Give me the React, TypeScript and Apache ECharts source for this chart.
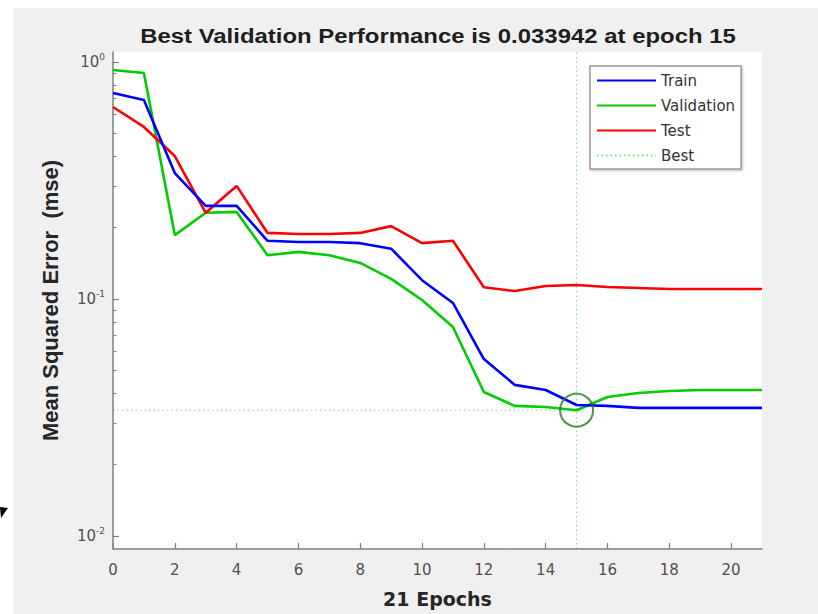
import React, { useEffect, useRef } from "react";
import * as echarts from "echarts";

const epochs = [0, 1, 2, 3, 4, 5, 6, 7, 8, 9, 10, 11, 12, 13, 14, 15, 16, 17, 18, 19, 20, 21];
const trainMse = [0.74, 0.691, 0.34, 0.247, 0.247, 0.176, 0.174, 0.174, 0.172, 0.163, 0.12, 0.0962, 0.0558, 0.0434, 0.0413, 0.0357, 0.0354, 0.0347, 0.0347, 0.0347, 0.0347, 0.0347];
const validationMse = [0.925, 0.899, 0.186, 0.231, 0.233, 0.153, 0.158, 0.153, 0.142, 0.1215, 0.099, 0.0762, 0.0405, 0.0354, 0.035, 0.033942, 0.0386, 0.0401, 0.0409, 0.0413, 0.0413, 0.0413];
const testMse = [0.646, 0.532, 0.401, 0.231, 0.3, 0.19, 0.188, 0.188, 0.19, 0.203, 0.172, 0.176, 0.112, 0.108, 0.1135, 0.1146, 0.1124, 0.1113, 0.1102, 0.1102, 0.1102, 0.1102];
const bestEpoch = 15;
const bestPerf = 0.033942;
const xTicks = [0, 2, 4, 6, 8, 10, 12, 14, 16, 18, 20];
const yMajorTicks = [0.01, 0.1, 1];
const yMinorTicks = [0.02, 0.03, 0.04, 0.05, 0.06, 0.07, 0.08, 0.09, 0.2, 0.3, 0.4, 0.5, 0.6, 0.7, 0.8, 0.9];
const yMin = 0.00881;
const yMax = 1.102;
const xMin = 0;
const xMax = 21;
const titleText = "Best Validation Performance is 0.033942 at epoch 15";
const xName = "21 Epochs";
const yName = "Mean Squared Error  (mse)";

const AXIS_COLOR = "#7f7f7f";
const LABEL_COLOR = "#505050";

export default function App() {
  const ref = useRef<HTMLDivElement>(null);
  useEffect(() => {
    if (!ref.current) return;
    const chart = echarts.init(ref.current, undefined, { renderer: "svg" });
    const zip = (ys: number[]) => epochs.map((e, i) => [e, ys[i]]);
    const option: any = {
      animation: false,
      backgroundColor: "transparent",
      grid: {
        left: 113,
        top: 52,
        right: 56,
        bottom: 65,
        show: true,
        backgroundColor: "#ffffff",
        borderWidth: 0,
      },
      graphic: [
        {
          type: "text",
          x: 438,
          y: 36,
          scaleX: 1.14,
          style: {
            text: titleText,
            font: 'bold 21px "Liberation Sans", Arial, sans-serif',
            fill: "#1e1e1e",
            align: "center",
            verticalAlign: "middle",
            textAlign: "center",
            textVerticalAlign: "middle",
          },
        },
        {
          type: "polygon",
          shape: { points: [[0, 507], [8, 508], [1, 518]] },
          style: { fill: "#000" },
        },
      ],
      legend: {
        show: true,
        data: ["Train", "Validation", "Test", "Best"],
        orient: "vertical",
        left: 590,
        top: 66,
        padding: [7, 6, 6, 6],
        itemGap: 10,
        itemWidth: 59,
        itemHeight: 14,
        backgroundColor: "#ffffff",
        borderColor: "#9a9a9a",
        borderWidth: 1.5,
        borderRadius: 0,
        shadowColor: "rgba(0,0,0,0.25)",
        shadowBlur: 2,
        shadowOffsetX: 1,
        shadowOffsetY: 1,
        itemStyle: { opacity: 0 },
        textStyle: { fontFamily: '"DejaVu Sans", sans-serif', fontSize: 15, color: "#333" },
      },
      xAxis: {
        type: "value",
        min: xMin,
        max: xMax,
        interval: 2,
        name: xName,
        nameLocation: "middle",
        nameGap: 40,
        nameTextStyle: {
          fontFamily: '"DejaVu Sans", sans-serif',
          fontWeight: "bold",
          fontSize: 19,
          color: "#262626",
        },
        axisLine: { show: true, onZero: false, lineStyle: { color: AXIS_COLOR, width: 1.5 } },
        axisTick: { show: true, inside: true, length: 6, customValues: xTicks, lineStyle: { color: AXIS_COLOR, width: 1.2 } },
        axisLabel: {
          customValues: xTicks,
          color: LABEL_COLOR,
          fontFamily: '"DejaVu Sans", sans-serif',
          fontSize: 15,
          margin: 13,
        },
        splitLine: { show: false },
      },
      yAxis: [
        {
          type: "log",
          logBase: 10,
          min: yMin,
          max: yMax,
          name: yName,
          nameLocation: "middle",
          nameGap: 52,
          nameRotate: 90,
          nameTextStyle: {
            fontFamily: '"Liberation Sans", Arial, sans-serif',
            fontWeight: "bold",
            fontSize: 22,
            color: "#262626",
          },
          axisLine: { show: true, onZero: false, lineStyle: { color: AXIS_COLOR, width: 1.5 } },
          axisTick: { show: true, inside: true, length: 6, customValues: yMajorTicks, lineStyle: { color: AXIS_COLOR, width: 1.2 } },
          axisLabel: {
            customValues: yMajorTicks,
            margin: 8,
            formatter: (v: number) => `{b|10}{s|${Math.round(Math.log10(v))}}`,
            rich: {
              b: { fontFamily: '"DejaVu Sans", sans-serif', fontSize: 15, color: LABEL_COLOR },
              s: { fontFamily: '"DejaVu Sans", sans-serif', fontSize: 9, color: LABEL_COLOR, padding: [0, 0, 10, 0] },
            },
          },
          splitLine: { show: false },
          minorTick: { show: false },
        },
        {
          type: "log",
          logBase: 10,
          min: yMin,
          max: yMax,
          position: "left",
          axisLine: { show: false },
          axisTick: { show: true, inside: true, length: 3.5, customValues: yMinorTicks, lineStyle: { color: AXIS_COLOR, width: 1 } },
          axisLabel: { show: false },
          splitLine: { show: false },
        },
      ],
      series: [
        {
          name: "Best",
          type: "line",
          symbol: "none",
          data: [[xMin, bestPerf], [bestEpoch, bestPerf]],
          lineStyle: { color: "#00cc00", width: 1, type: [1.5, 3], opacity: 0.55 },
          itemStyle: { color: "#00cc00" },
          z: 1,
        },
        {
          name: "Best",
          type: "line",
          symbol: "none",
          data: [[bestEpoch, yMin], [bestEpoch, yMax]],
          lineStyle: { color: "#00cc00", width: 1, type: [1.5, 3], opacity: 0.55 },
          itemStyle: { color: "#00cc00" },
          z: 1,
        },
        {
          name: "Train",
          type: "line",
          symbol: "none",
          data: zip(trainMse),
          lineStyle: { color: "#0000ff", width: 2.6 },
          itemStyle: { color: "#0000ff" },
          z: 3,
        },
        {
          name: "Validation",
          type: "line",
          symbol: "none",
          data: zip(validationMse),
          lineStyle: { color: "#00cc00", width: 2.6 },
          itemStyle: { color: "#00cc00" },
          z: 2,
        },
        {
          name: "Test",
          type: "line",
          symbol: "none",
          data: zip(testMse),
          lineStyle: { color: "#ff0000", width: 2.6 },
          itemStyle: { color: "#ff0000" },
          z: 2,
        },
        {
          name: "BestPoint",
          type: "scatter",
          symbol: "circle",
          symbolSize: 33,
          data: [[bestEpoch, bestPerf]],
          itemStyle: { color: "transparent", borderColor: "#1f7a1f", borderWidth: 2 },
          z: 4,
          silent: true,
        },
      ],
    };
    chart.setOption(option);
    return () => chart.dispose();
  }, []);
  return (
    <div style={{ position: "fixed", left: 0, top: 0, width: 818, height: 614, background: "#ffffff" }}>
      <div style={{ position: "absolute", left: 13, top: 8, right: 0, bottom: 0, background: "#f0f0f0" }} />
      <div ref={ref} style={{ position: "absolute", left: 0, top: 0, width: 818, height: 614 }} />
    </div>
  );
}
